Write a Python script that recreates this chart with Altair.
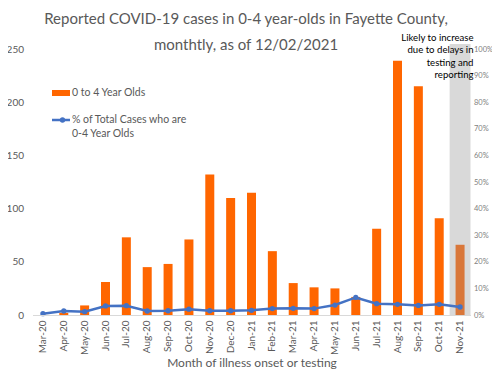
import altair as alt
import pandas as pd

months = ["Mar-20", "Apr-20", "May-20", "Jun-20", "Jul-20", "Aug-20", "Sep-20", "Oct-20",
          "Nov-20", "Dec-20", "Jan-21", "Feb-21", "Mar-21", "Apr-21", "May-21", "Jun-21",
          "Jul-21", "Aug-21", "Sep-21", "Oct-21", "Nov-21"]
cases = [0, 2, 9, 31, 73, 45, 48, 71, 132, 110, 115, 60, 30, 26, 25, 17, 81, 239, 215, 91, 66]
pct = [0.005, 0.015, 0.0125, 0.034, 0.035, 0.015, 0.016, 0.022, 0.016, 0.016, 0.0175,
       0.024, 0.025, 0.024, 0.0375, 0.066, 0.0425, 0.04, 0.036, 0.04, 0.03]
incomplete = ["No"] * 20 + ["Yes"]

shade_month = ["Nov-21"]
shade_top = [254.7]
note_lines = ["Likely to increase", "due to delays in", "testing and", "reporting"]
title_lines = ["Reported COVID-19 cases in 0-4 year-olds in Fayette County,",
               "monthtly, as of 12/02/2021"]

FONT = "Lato"
GREY = "#595959"

df = pd.DataFrame({"month": months, "cases": cases, "pct": pct, "incomplete": incomplete})
shade = pd.DataFrame({"month": shade_month, "top": shade_top})

W, H = 438, 266

xscale = alt.Scale(domain=months, paddingInner=0, paddingOuter=0)
xenc = alt.X("month:N", sort=months, scale=xscale,
             axis=alt.Axis(title="Month of illness onset or testing", labelAngle=-90,
                           labelFont=FONT, labelFontSize=10, labelColor=GREY, ticks=False,
                           labelPadding=5, domainColor="#D9D9D9", titleFont=FONT,
                           titleFontSize=12, titleFontWeight="normal", titleColor=GREY,
                           titlePadding=3))

yleft = alt.Scale(domain=[0, 250], nice=False)
yaxis = alt.Axis(title=None, values=[0, 50, 100, 150, 200, 250], grid=False,
                 ticks=False, domain=False, labelFont=FONT, labelFontSize=10,
                 labelColor=GREY, labelPadding=9, orient="left")

rect = alt.Chart(shade).mark_rect(color="#D9D9D9").encode(
    x=xenc,
    y=alt.Y("top:Q", scale=yleft, axis=yaxis),
    y2=alt.datum(0),
)

bars = alt.Chart(df).mark_bar(size=9).encode(
    x=xenc,
    y=alt.Y("cases:Q", scale=yleft, axis=yaxis),
    color=alt.Color("incomplete:N", scale=alt.Scale(domain=["No", "Yes"],
                                                     range=["#FF6600", "#D9773A"]),
                    legend=None),
)

left = alt.layer(rect, bars)

line = alt.Chart(df).mark_line(color="#4472C4", strokeWidth=2.5,
                               point=alt.OverlayMarkDef(color="#4472C4", size=28, filled=True)).encode(
    x=alt.X("month:N", sort=months, scale=xscale),
    y=alt.Y("pct:Q", scale=alt.Scale(domain=[0, 1], nice=False),
            axis=alt.Axis(title=None, orient="right", format="%",
                          values=[0, .1, .2, .3, .4, .5, .6, .7, .8, .9, 1.0],
                          grid=False, ticks=False, domain=False, labelFont=FONT,
                          labelFontSize=7.5, labelColor="#808080", labelPadding=3)),
)

# legend drawn manually (inside plot area, top-left)
leg_df = pd.DataFrame({"label": ["0 to 4 Year Olds"]})
leg_sq = alt.Chart(leg_df).mark_rect(color="#FF6600").encode(
    x=alt.value(19.5), x2=alt.value(37.5), y=alt.value(41), y2=alt.value(47))
leg_t1 = alt.Chart(leg_df).mark_text(align="left", baseline="middle", font=FONT,
                                     fontSize=10.5, color=GREY).encode(
    x=alt.value(39.5), y=alt.value(44), text="label:N")
leg_line = alt.Chart(leg_df).mark_rule(color="#4472C4", strokeWidth=2.5).encode(
    x=alt.value(19.5), x2=alt.value(37.5), y=alt.value(71))
leg_pt = alt.Chart(leg_df).mark_point(color="#4472C4", filled=True, size=28, opacity=1).encode(
    x=alt.value(30), y=alt.value(71))
leg2_df = pd.DataFrame({"label": [["% of Total Cases who are", "0-4 Year Olds"]]})
leg_t2 = alt.Chart(leg2_df).mark_text(align="left", baseline="middle", font=FONT,
                                      fontSize=10.5, color=GREY, lineHeight=14).encode(
    x=alt.value(39.5), y=alt.value(71), text="label")

note_df = pd.DataFrame({"label": [note_lines]})
note = alt.Chart(note_df).mark_text(align="right", baseline="middle", font=FONT,
                                    fontSize=9.6, color="#000000", lineHeight=12.4).encode(
    x=alt.value(441), y=alt.value(-11), text="label")

title_df = pd.DataFrame({"label": [title_lines]})
title = alt.Chart(title_df).mark_text(align="center", baseline="alphabetic", font=FONT,
                                      fontSize=15, color=GREY, lineHeight=26).encode(
    x=alt.value(213.5), y=alt.value(-25), text="label")

chart = alt.layer(left, line, leg_sq, leg_t1, leg_line, leg_pt, leg_t2, note, title).resolve_scale(
    y="independent").properties(
    width=W, height=H,
    autosize=alt.AutoSizeParams(type="none"),
    padding={"left": 24.5, "top": 41, "right": 21.5, "bottom": 55},
).configure_view(stroke=None)

chart.save("out.html", embed_options={"renderer": "svg", "actions": False})
